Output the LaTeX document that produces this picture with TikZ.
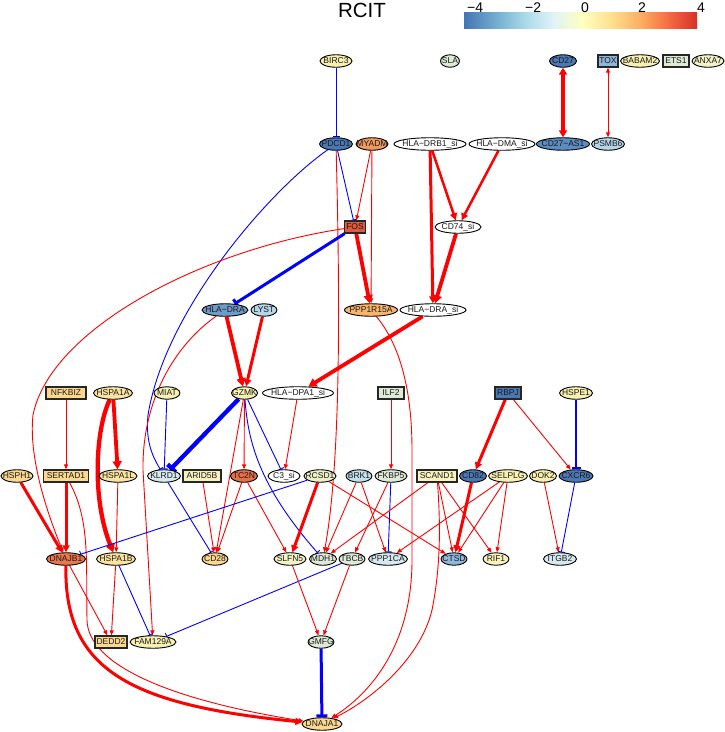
\documentclass[tikz,border=0pt]{standalone}
\usepackage{fontspec}
\setmainfont{Liberation Sans}
\usetikzlibrary{arrows.meta,shapes.geometric}
\pgfdeclarelayer{bg}
\pgfsetlayers{bg,main}
\newcommand\nlab[1]{\makebox[0pt]{#1}}
\definecolor{txt}{HTML}{1A1A1A}
\definecolor{yl}{HTML}{F7F0B0}
\definecolor{cANXA}{HTML}{F3F2C6}
\definecolor{gr}{HTML}{DEEAD7}
\definecolor{dkb}{HTML}{4A78B4}
\definecolor{mdb}{HTML}{8FB7D9}
\definecolor{cMYADM}{HTML}{EE9A5C}
\definecolor{cCDAS}{HTML}{5C8CC3}
\definecolor{ltb}{HTML}{B6D5E7}
\definecolor{cFOS}{HTML}{DD5A3C}
\definecolor{cHLADRA}{HTML}{6F9BC8}
\definecolor{cPPP}{HTML}{F6B56B}
\definecolor{lor}{HTML}{FBD88E}
\definecolor{cHSPA}{HTML}{FBE4A0}
\definecolor{vlb}{HTML}{D5E9EE}
\definecolor{cBRK}{HTML}{C2DFEA}
\definecolor{pyl}{HTML}{F8F3BC}
\definecolor{cRCSD}{HTML}{EBF0C8}
\definecolor{cTC}{HTML}{E66F48}
\definecolor{cDNAJB}{HTML}{E9774E}
\definecolor{cb1}{HTML}{4575B4}
\definecolor{cb2}{HTML}{74ADD1}
\definecolor{cb3}{HTML}{ABD9E9}
\definecolor{cb4}{HTML}{E0F3F8}
\definecolor{cb5}{HTML}{FFFFBF}
\definecolor{cb6}{HTML}{FEE090}
\definecolor{cb7}{HTML}{FDAE61}
\definecolor{cb8}{HTML}{F46D43}
\definecolor{cb9}{HTML}{D73027}
\tikzset{
  el/.style={ellipse, draw=black, line width=0.9pt, minimum height=12.5pt, inner sep=0pt,
    font=\fontsize{8.5}{9}\selectfont, text=txt},
  bx/.style={rectangle, draw=black!85, line width=1.3pt, minimum height=12pt, inner sep=0pt,
    font=\fontsize{8.5}{9}\selectfont, text=txt},
  ra/.style={draw=red, line width=0.9pt, -{Triangle[length=5pt,width=4pt]}},
  rm/.style={draw=red, line width=2.5pt, -{Triangle[length=7pt,width=7pt]}},
  rt/.style={draw=red, line width=3.8pt, -{Triangle[length=8pt,width=9pt]}},
  bt/.style={draw=blue, line width=0.9pt, -{Bar[width=7pt]}},
  bm/.style={draw=blue, line width=2pt, -{Bar[width=9pt]}},
  bth/.style={draw=blue, line width=3.5pt, -{Bar[width=11pt]}},
}
\begin{document}
\begin{tikzpicture}[x=1pt,y=-1pt]
\useasboundingbox (0,0) rectangle (725,732);
% legend
\node[font=\fontsize{20.5}{22}\selectfont, anchor=base, inner sep=0pt] (title) at (362,17) {RCIT};
\shade[left color=cb1, right color=cb2] (464,12) rectangle (496.5,28);
\shade[left color=cb2, right color=cb3] (496,12) rectangle (525.5,28);
\shade[left color=cb3, right color=cb4] (525,12) rectangle (553.5,28);
\shade[left color=cb4, right color=cb5] (553,12) rectangle (582.5,28);
\shade[left color=cb5, right color=cb6] (582,12) rectangle (611.5,28);
\shade[left color=cb6, right color=cb7] (611,12) rectangle (640.5,28);
\shade[left color=cb7, right color=cb8] (640,12) rectangle (668.5,28);
\shade[left color=cb8, right color=cb9] (668,12) rectangle (697,28);
\foreach \xx/\tt in {467/−4, 525/−2, 581/0, 638/2, 697/4}
  \node[font=\fontsize{14}{15}\selectfont, anchor=base west, inner sep=0pt] at (\xx,12.7) {\tt};
% row 1
\node[el, fill=yl, minimum width=32pt] (BIRC3) at (336,61) {\nlab{BIRC3}};
\node[el, fill=gr, minimum width=19pt] (SLA) at (450,61) {\nlab{SLA}};
\node[el, fill=dkb, minimum width=27pt] (CD27) at (563,61) {\nlab{CD27}};
\node[bx, fill=mdb, minimum width=20pt] (TOX) at (608,61) {\nlab{TOX}};
\node[el, fill=yl, minimum width=39pt] (BABAM2) at (640,61) {\nlab{BABAM2}};
\node[bx, fill=gr, minimum width=26pt] (ETS1) at (676,61) {\nlab{ETS1}};
\node[el, fill=cANXA, minimum width=32pt] (ANXA7) at (708,61) {\nlab{ANXA7}};
% row 2
\node[el, fill=dkb, minimum width=33pt] (PDCD1) at (336,144) {\nlab{PDCD1}};
\node[el, fill=cMYADM, minimum width=32pt] (MYADM) at (372,144) {\nlab{MYADM}};
\node[el, fill=white, minimum width=72pt] (HLADRB1) at (430,144) {\nlab{HLA−DRB1\_si}};
\node[el, fill=white, minimum width=66pt] (HLADMA) at (502,144) {\nlab{HLA−DMA\_si}};
\node[el, fill=cCDAS, minimum width=53pt] (CD27AS1) at (563,144) {\nlab{CD27−AS1}};
\node[el, fill=ltb, minimum width=33pt] (PSMB6) at (608,144) {\nlab{PSMB6}};
% row 3
\node[bx, fill=cFOS, minimum width=21pt] (FOS) at (355,227) {\nlab{FOS}};
\node[el, fill=white, minimum width=46pt] (CD74) at (458,227) {\nlab{CD74\_si}};
% row 4
\node[el, fill=cHLADRA, minimum width=46pt] (HLADRA) at (225,310) {\nlab{HLA−DRA}};
\node[el, fill=ltb, minimum width=26pt] (LYST) at (264,310) {\nlab{LYST}};
\node[el, fill=cPPP, minimum width=53pt] (PPP1R15A) at (371,310) {\nlab{PPP1R15A}};
\node[el, fill=white, minimum width=66pt] (HLADRAsi) at (433,310) {\nlab{HLA−DRA\_si}};
% row 5
\node[bx, fill=lor, minimum width=40pt] (NFKBIZ) at (66,393) {\nlab{NFKBIZ}};
\node[el, fill=cHSPA, minimum width=39pt] (HSPA1A) at (113,393) {\nlab{HSPA1A}};
\node[el, fill=yl, minimum width=26pt] (MIAT) at (167,393) {\nlab{MIAT}};
\node[el, fill=yl, minimum width=26pt] (GZMK) at (244.5,393) {\nlab{GZMK}};
\node[el, fill=white, minimum width=71pt] (HLADPA1) at (298,393) {\nlab{HLA−DPA1\_si}};
\node[bx, fill=gr, minimum width=26pt] (ILF2) at (391,393) {\nlab{ILF2}};
\node[bx, fill=dkb, minimum width=26pt] (RBPJ) at (508,393) {\nlab{RBPJ}};
\node[el, fill=yl, minimum width=33pt] (HSPE1) at (576,393) {\nlab{HSPE1}};
% row 6
\node[el, fill=lor, minimum width=32pt] (HSPH1) at (17,476) {\nlab{HSPH1}};
\node[bx, fill=lor, minimum width=45pt] (SERTAD1) at (66,476) {\nlab{SERTAD1}};
\node[el, fill=cHSPA, minimum width=38pt] (HSPA1L) at (118,476) {\nlab{HSPA1L}};
\node[el, fill=vlb, minimum width=33pt] (KLRD1) at (164,476) {\nlab{KLRD1}};
\node[bx, fill=pyl, minimum width=38pt] (ARID5B) at (202,476) {\nlab{ARID5B}};
\node[el, fill=cTC, minimum width=27pt] (TC2N) at (244,476) {\nlab{TC2N}};
\node[el, fill=white, minimum width=32pt] (C3si) at (284,476) {\nlab{C3\_si}};
\node[el, fill=cRCSD, minimum width=32pt] (RCSD1) at (320,476) {\nlab{RCSD1}};
\node[el, fill=cBRK, minimum width=26pt] (BRK1) at (359,476) {\nlab{BRK1}};
\node[el, fill=gr, minimum width=32pt] (FKBP5) at (391,476) {\nlab{FKBP5}};
\node[bx, fill=pyl, minimum width=40pt] (SCAND1) at (437,476) {\nlab{SCAND1}};
\node[el, fill=dkb, minimum width=27pt] (CD82) at (473,476) {\nlab{CD82}};
\node[el, fill=yl, minimum width=39pt] (SELPLG) at (508,476) {\nlab{SELPLG}};
\node[el, fill=yl, minimum width=27pt] (DOK2) at (543,476) {\nlab{DOK2}};
\node[el, fill=dkb, minimum width=34pt] (CXCR6) at (576,476) {\nlab{CXCR6}};
% row 7
\node[el, fill=cDNAJB, minimum width=39pt] (DNAJB1) at (66,559) {\nlab{DNAJB1}};
\node[el, fill=cHSPA, minimum width=39pt] (HSPA1B) at (116,559) {\nlab{HSPA1B}};
\node[el, fill=lor, minimum width=26pt] (CD28) at (215,559) {\nlab{CD28}};
\node[el, fill=cANXA, minimum width=32pt] (SLFN5) at (290,559) {\nlab{SLFN5}};
\node[el, fill=gr, minimum width=27pt] (MDH1) at (323,559) {\nlab{MDH1}};
\node[el, fill=gr, minimum width=26pt] (TBCB) at (352,559) {\nlab{TBCB}};
\node[el, fill=vlb, minimum width=39pt] (PPP1CA) at (388,559) {\nlab{PPP1CA}};
\node[el, fill=mdb, minimum width=26pt] (CTSD) at (454,559) {\nlab{CTSD}};
\node[el, fill=pyl, minimum width=26pt] (RIF1) at (496,559) {\nlab{RIF1}};
\node[el, fill=vlb, minimum width=33pt] (ITGB2) at (560,559) {\nlab{ITGB2}};
% row 8
\node[bx, fill=lor, minimum width=32pt] (DEDD2) at (111,642) {\nlab{DEDD2}};
\node[el, fill=yl, minimum width=46pt] (FAM129A) at (153,642) {\nlab{FAM129A}};
\node[el, fill=gr, minimum width=26pt] (GMFG) at (321,642) {\nlab{GMFG}};
% row 9
\node[el, fill=lor, minimum width=40pt] (DNAJA1) at (322,724) {\nlab{DNAJA1}};
% edges
\begin{pgfonlayer}{bg}
\draw[bt] (BIRC3) -- (PDCD1);
\draw[draw=red, line width=3.5pt, {Triangle[length=7pt,width=8pt]}-{Triangle[length=7pt,width=8pt]}] (CD27) -- (CD27AS1);
\draw[draw=red, line width=0.9pt, {Triangle[length=5pt,width=4pt]}-{Triangle[length=5pt,width=4pt]}] (TOX) -- (PSMB6);
\draw[bt] (PDCD1) -- (FOS);
\draw[ra] (MYADM) -- (FOS);
\draw[ra] (MYADM) -- (PPP1R15A);
\draw[bt] (PDCD1) .. controls (270,190) and (165,310) .. (148,415) .. controls (145,445) and (155,460) .. (KLRD1);
\draw[ra] (PDCD1) .. controls (340,300) and (341,460) .. (MDH1);
\draw[rt] (FOS) -- (PPP1R15A);
\draw[bm, line width=3pt] (FOS) -- (HLADRA);
\draw[ra] (FOS) .. controls (200,250) and (50,330) .. (33,415) .. controls (28,460) and (50,520) .. (DNAJB1);
\draw[rm] (HLADRB1) -- (CD74);
\draw[rm, line width=3pt] (HLADRB1) -- (HLADRAsi);
\draw[rm] (HLADMA) -- (CD74);
\draw[rt] (CD74) -- (HLADRAsi);
\draw[rt] (HLADRAsi) -- (HLADPA1);
\draw[rt] (HLADRA) -- (GZMK);
\draw[rm, line width=3pt] (LYST) -- (GZMK);
\draw[ra] (HLADRA) .. controls (175,345) and (142,400) .. (143,470) -- (FAM129A);
\draw[ra] (PPP1R15A) .. controls (400,345) and (412,390) .. (412,450) -- (412,560) .. controls (412,640) and (375,690) .. (DNAJA1);
\draw[ra] (SCAND1) .. controls (441,530) and (440,570) .. (432,610) .. controls (420,660) and (370,700) .. (DNAJA1);
\draw[rt, line width=4.3pt] (HSPA1A) .. controls (95,430) and (92,500) .. (HSPA1B);
\draw[rt] (HSPA1A) -- (HSPA1L);
\draw[ra] (HSPA1L) -- (HSPA1B);
\draw[ra] (NFKBIZ) -- (SERTAD1);
\draw[bt] (MIAT) -- (KLRD1);
\draw[bth, line width=4.3pt] (GZMK) -- (KLRD1);
\draw[ra] (GZMK) -- (CD28);
\draw[ra] (GZMK) -- (TC2N);
\draw[bt] (GZMK) .. controls (248,440) and (258,485) .. (MDH1);
\draw[bt] (GZMK) -- (C3si);
\draw[ra] (HLADPA1) -- (C3si);
\draw[ra] (ILF2) -- (FKBP5);
\draw[rm, line width=3pt] (RBPJ) -- (CD82);
\draw[ra] (RBPJ) -- (CXCR6);
\draw[bm] (HSPE1) -- (CXCR6);
\draw[rm, line width=3pt] (HSPH1) -- (DNAJB1);
\draw[rm, line width=3pt] (SERTAD1) -- (DNAJB1);
\draw[ra] (SERTAD1) .. controls (90,520) and (86,560) .. (87,620) .. controls (88,665) and (170,700) .. (DNAJA1);
\draw[bt] (KLRD1) -- (CD28);
\draw[ra] (ARID5B) -- (CD28);
\draw[ra] (TC2N) -- (CD28);
\draw[ra] (TC2N) -- (SLFN5);
\draw[bt] (RCSD1) -- (DNAJB1);
\draw[rm, line width=3pt] (RCSD1) -- (SLFN5);
\draw[ra] (RCSD1) -- (CTSD);
\draw[ra] (BRK1) -- (MDH1);
\draw[ra] (BRK1) -- (PPP1CA);
\draw[ra] (FKBP5) -- (TBCB);
\draw[bt] (FKBP5) -- (PPP1CA);
\draw[ra] (SCAND1) -- (MDH1);
\draw[ra] (SCAND1) -- (CTSD);
\draw[ra] (SCAND1) -- (RIF1);
\draw[rm, line width=3pt] (CD82) -- (CTSD);
\draw[ra] (SELPLG) -- (PPP1CA);
\draw[ra] (SELPLG) -- (CTSD);
\draw[ra] (SELPLG) -- (RIF1);
\draw[ra] (DOK2) -- (ITGB2);
\draw[bt] (CXCR6) -- (ITGB2);
\draw[rm, line width=3pt] (DNAJB1) .. controls (64,670) and (130,705) .. (DNAJA1);
\draw[ra] (DNAJB1) -- (DEDD2);
\draw[ra] (HSPA1B) -- (DEDD2);
\draw[bt] (HSPA1B) -- (FAM129A);
\draw[bt] (TBCB) -- (FAM129A);
\draw[ra] (SLFN5) -- (GMFG);
\draw[ra] (TBCB) -- (GMFG);
\draw[bth, line width=3pt] (GMFG) -- (DNAJA1);
\end{pgfonlayer}
\end{tikzpicture}
\end{document}
